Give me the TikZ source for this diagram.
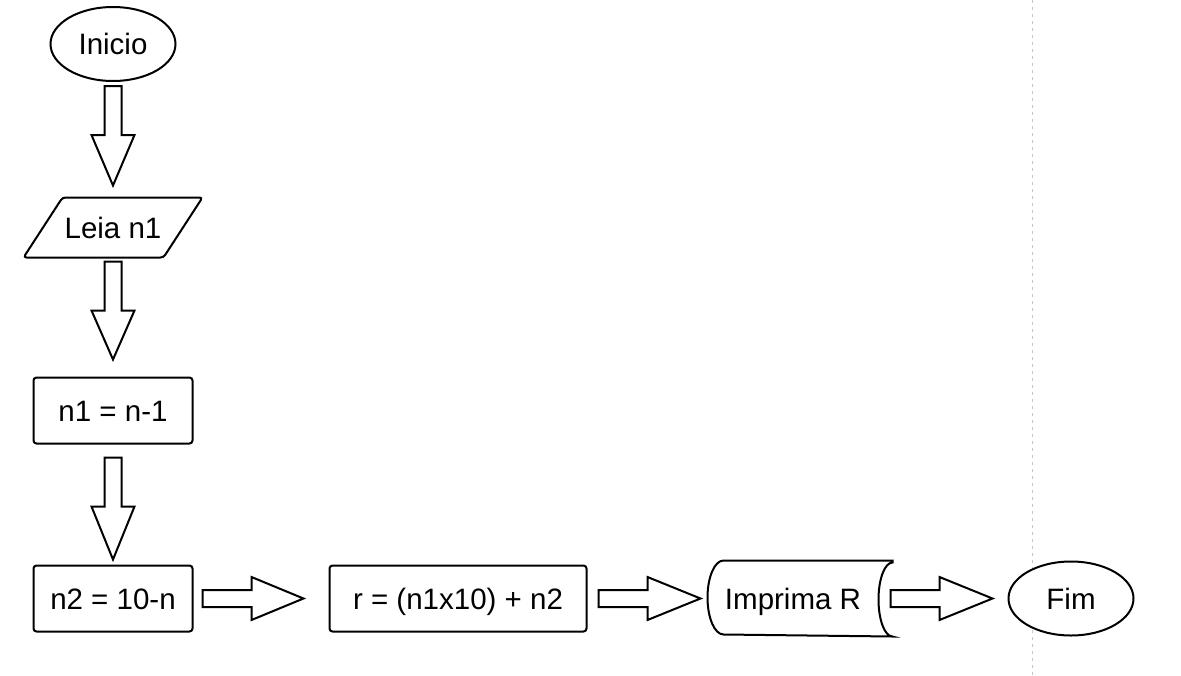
\documentclass[tikz,border=0pt]{standalone}
\usepackage{fontspec}
\setmainfont{Liberation Sans}
\usepackage{tikz}
\usetikzlibrary{shapes.geometric, positioning, calc}

\newcommand{\blockarrow}[2]{%
    \draw[blockarrow]
        ($(#1)!8.5pt!90:(#2)$)
        -- ($(#1)!49pt!(#2)!8.5pt!90:(#2)$)
        -- ($(#1)!49pt!(#2)!21.5pt!90:(#2)$)
        -- (#2)
        -- ($(#1)!49pt!(#2)!21.5pt!-90:(#2)$)
        -- ($(#1)!49pt!(#2)!8.5pt!-90:(#2)$)
        -- ($(#1)!8.5pt!-90:(#2)$)
        -- cycle;}

\begin{document}
\begin{tikzpicture}[x=1pt, y=1pt,
    font=\fontsize{29.5}{34}\selectfont,
    every node/.style={line width=2pt, fill=white, text height=21pt, text depth=0pt},
    terminal/.style={ellipse, draw, minimum width=125pt, minimum height=74pt, inner sep=0pt},
    process/.style={rectangle, draw, rounded corners=3pt, minimum height=66pt, inner sep=0pt},
    blockarrow/.style={draw=black, fill=white, line width=2pt, line join=miter}]

    \useasboundingbox (0,0) rectangle (1181,-675);

    % page border
    \draw[gray!45, line width=1pt, dash pattern=on 3pt off 4pt] (1032,0) -- (1032,-675);

    % Add the blocks
        \node[terminal] (inicio) at (113,-44) {Inicio};
        \node[rectangle,
              minimum width=140pt,
              minimum height=60pt,
              inner sep=0pt,
              outer sep=0pt,
              fill=none,
              below=115.5pt of inicio] (leia) {};
        \draw[line width=2pt, fill=white, rounded corners=3pt]
            ([xshift=19.5pt]leia.north west) -- ([xshift=19.5pt]leia.north east)
            -- ([xshift=-19.5pt]leia.south east) -- ([xshift=-19.5pt]leia.south west)
            -- cycle;
        \node[fill=none] at (leia.center) {Leia n1};
        \node[process,
              minimum width=159pt,
              below=119pt of leia] (n1) {n1 = n-1};
        \node[process,
              minimum width=159pt,
              below=120pt of n1] (n2) {n2 = 10-n};
        \node[process,
              minimum width=257pt,
              right=135pt of n2] (r) {r = (n1x10) + n2};
        \node[rectangle,
              minimum width=183pt,
              minimum height=74pt,
              inner sep=0pt,
              fill=none,
              right=120pt of r] (imp) {};
        \draw[line width=2pt, fill=white]
            (imp.north east) -- ([xshift=16pt]imp.north west)
            arc[start angle=90, end angle=270, x radius=16pt, y radius=37pt]
            -- (imp.south east)
            arc[start angle=270, end angle=90, x radius=14pt, y radius=37pt]
            -- cycle;
        \node[fill=none] at ([xshift=-7pt]imp.center) {Imprima R};
        \node[terminal,
              right=115pt of imp] (fim) {Fim};

    % Arrow ends
        \coordinate (a1) at ([yshift=-4pt]inicio.south);
        \coordinate (b1) at ([yshift=12pt]leia.north);
        \coordinate (a2) at ([yshift=-4pt]leia.south);
        \coordinate (b2) at ([yshift=17pt]n1.north);
        \coordinate (a3) at ([yshift=-13pt]n1.south);
        \coordinate (b3) at ([yshift=5pt]n2.north);
        \coordinate (a4) at ([xshift=9pt]n2.east);
        \coordinate (b4) at ([xshift=-25pt]r.west);
        \coordinate (a5) at ([xshift=11pt]r.east);
        \coordinate (b5) at ([xshift=-7pt]imp.west);
        \coordinate (a6) at ([xshift=-2pt]imp.east);
        \coordinate (b6) at ([xshift=-15pt]fim.west);

    % Block arrows
        \blockarrow{a1}{b1}
        \blockarrow{a2}{b2}
        \blockarrow{a3}{b3}
        \blockarrow{a4}{b4}
        \blockarrow{a5}{b5}
        \blockarrow{a6}{b6}

\end{tikzpicture}
\end{document}
